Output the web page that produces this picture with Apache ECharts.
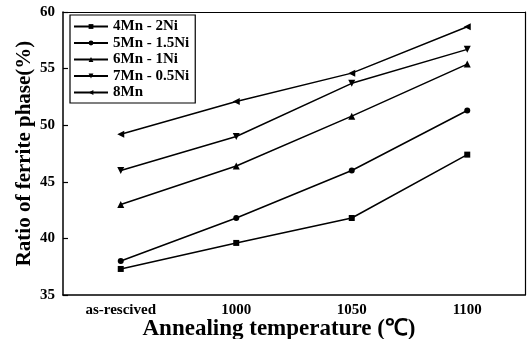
<!DOCTYPE html>
<html><head><meta charset="utf-8">
<script src="https://cdn.jsdelivr.net/npm/echarts@6/dist/echarts.min.js"></script>
<style>html,body{margin:0;padding:0;background:#fff}#c{width:527px;height:339px}</style>
</head><body><div id="c"></div>
<script>
const categories = ['as-rescived', '1000', '1050', '1100'];
const yTicks = [35, 40, 45, 50, 55, 60];
const s4Mn2Ni = [37.3, 39.6, 41.8, 47.4];
const s5Mn15Ni = [38.0, 41.8, 46.0, 51.3];
const s6Mn1Ni = [43.0, 46.4, 50.8, 55.4];
const s7Mn05Ni = [46.0, 49.0, 53.7, 56.7];
const s8Mn = [49.2, 52.1, 54.6, 58.7];
const names = ['4Mn - 2Ni', '5Mn - 1.5Ni', '6Mn - 1Ni', '7Mn - 0.5Ni', '8Mn'];

const font = 'Liberation Serif';
const chart = echarts.init(document.getElementById('c'));
function mk(name, data, symbol, rot, size) {
  return {
    name, type: 'line', data, symbol, symbolRotate: rot, symbolSize: size,
    showSymbol: true,
    lineStyle: { color: '#000', width: 1.5 },
    itemStyle: { color: '#000' },
    animation: false
  };
}
const xMain = {
  type: 'category', data: categories, boundaryGap: true,
  axisLine: { lineStyle: { color: '#000', width: 1.5 } },
  axisTick: { inside: true, alignWithLabel: true, length: 5, lineStyle: { color: '#000', width: 1.2 } },
  axisLabel: { fontFamily: font, fontWeight: 'bold', fontSize: 15, color: '#000', margin: 8 },
  name: 'Annealing temperature (℃)', nameLocation: 'middle', nameGap: 23, nameMoveOverlap: false,
  nameTextStyle: { fontFamily: font, fontWeight: 'bold', fontSize: 23, color: '#000', padding: [0, 30, 0, 0] }
};
const yMain = {
  type: 'value', min: 35, max: 60, interval: 5,
  axisLine: { show: true, lineStyle: { color: '#000', width: 1.5 } },
  axisTick: { show: true, inside: true, length: 5, lineStyle: { color: '#000', width: 1.2 } },
  splitLine: { show: false },
  axisLabel: { fontFamily: font, fontWeight: 'bold', fontSize: 15, color: '#000', margin: 8,
    formatter: v => yTicks.includes(v) ? String(v) : '' },
  name: 'Ratio of ferrite phase(%)', nameLocation: 'middle', nameGap: 28, nameMoveOverlap: false,
  nameTextStyle: { fontFamily: font, fontWeight: 'bold', fontSize: 21, color: '#000' }
};
chart.setOption({
  backgroundColor: '#fff',
  animation: false,
  grid: { left: 63, right: 2, top: 12, bottom: 44, containLabel: false, outerBoundsMode: 'none' },
  legend: {
    orient: 'vertical', left: 70, top: 15,
    itemWidth: 34, itemHeight: 6, itemGap: 1.5,
    padding: [4, 6, 3, 3],
    borderColor: '#000', borderWidth: 1.2,
    textStyle: { fontFamily: font, fontWeight: 'bold', fontSize: 15, color: '#000' },
    data: names
  },
  xAxis: [xMain, { type: 'category', data: categories, position: 'top', axisLine: { lineStyle: { color: '#000', width: 1.2 } }, axisTick: { show: false }, axisLabel: { show: false } }],
  yAxis: [yMain, { type: 'value', min: 35, max: 60, interval: 5, position: 'right', axisLine: { show: true, lineStyle: { color: '#000', width: 1.2 } }, axisTick: { show: false }, axisLabel: { show: false }, splitLine: { show: false } }],
  series: [
    mk(names[0], s4Mn2Ni, 'rect', 0, 6),
    mk(names[1], s5Mn15Ni, 'circle', 0, 6),
    mk(names[2], s6Mn1Ni, 'triangle', 0, 7),
    mk(names[3], s7Mn05Ni, 'triangle', 180, 7),
    mk(names[4], s8Mn, 'triangle', 90, 7)
  ]
});
</script></body></html>
